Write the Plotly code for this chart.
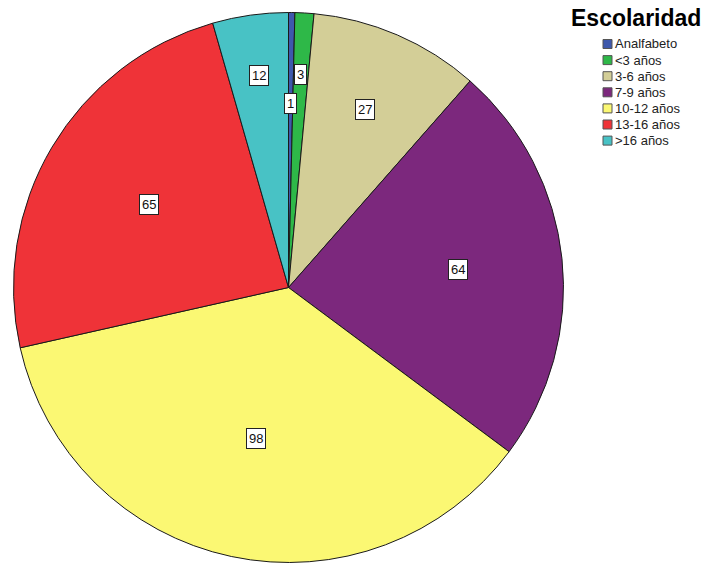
import math
import plotly.graph_objects as go

# ---- data ----
categories = ["Analfabeto", "<3 años", "3-6 años", "7-9 años", "10-12 años", "13-16 años", ">16 años"]
counts = [1, 3, 27, 64, 98, 65, 12]
legend_title = "Escolaridad"

# ---- style ----
colors = ["#3E58AC", "#2EB848", "#D3CE97", "#7C287D", "#FBF873", "#EF3338", "#48C2C5"]
label_radius = [0.67, 0.775, 0.705, 0.62, 0.56, 0.59, 0.78]  # fraction of pie radius
W, H = 706, 563
CX, CY, R = 288.5, 287.5, 275.0
FONT = "Arial, Liberation Sans, sans-serif"


def px(x):
    return x / W


def py(y):
    return 1 - y / H


fig = go.Figure(
    go.Pie(
        labels=categories,
        values=counts,
        marker=dict(colors=colors, line=dict(color="#1a1a1a", width=1)),
        sort=False,
        direction="clockwise",
        rotation=0,
        textinfo="none",
        hoverinfo="label+value",
        showlegend=False,
        domain=dict(x=[px(CX - R), px(CX + R)], y=[py(CY + R), py(CY - R)]),
    )
)

annotations = []
shapes = []

# slice value labels (boxed), placed along each slice's mid-angle
total = sum(counts)
cum = 0
for i, v in enumerate(counts):
    mid = (cum + v / 2) / total * 2 * math.pi
    cum += v
    r = R * label_radius[i]
    lx = CX + r * math.sin(mid)
    ly = CY - r * math.cos(mid)
    annotations.append(
        dict(
            x=px(lx), y=py(ly), xref="paper", yref="paper",
            text=str(v), showarrow=False,
            xanchor="center", yanchor="middle",
            font=dict(family=FONT, size=13, color="#111"),
            bgcolor="white", bordercolor="#222", borderwidth=1, borderpad=2,
        )
    )

# legend title
annotations.append(
    dict(
        x=px(636), y=py(18), xref="paper", yref="paper",
        text="<b>" + legend_title + "</b>", showarrow=False,
        xanchor="center", yanchor="middle",
        font=dict(family=FONT, size=23, color="#000"),
    )
)

# legend entries
for i, (name, c) in enumerate(zip(categories, colors)):
    yc = 44 + i * 16.1
    shapes.append(
        dict(
            type="rect", xref="paper", yref="paper",
            x0=px(603), x1=px(612), y0=py(yc + 4.5), y1=py(yc - 4.5),
            fillcolor=c, line=dict(color="#555", width=1),
        )
    )
    annotations.append(
        dict(
            x=px(613), y=py(yc), xref="paper", yref="paper",
            text=name, showarrow=False,
            xanchor="left", yanchor="middle",
            font=dict(family=FONT, size=13, color="#222"),
        )
    )

fig.update_layout(
    width=W, height=H,
    margin=dict(l=0, r=0, t=0, b=0),
    paper_bgcolor="white", plot_bgcolor="white",
    annotations=annotations, shapes=shapes,
    showlegend=False,
)

fig.write_html("out.html")
